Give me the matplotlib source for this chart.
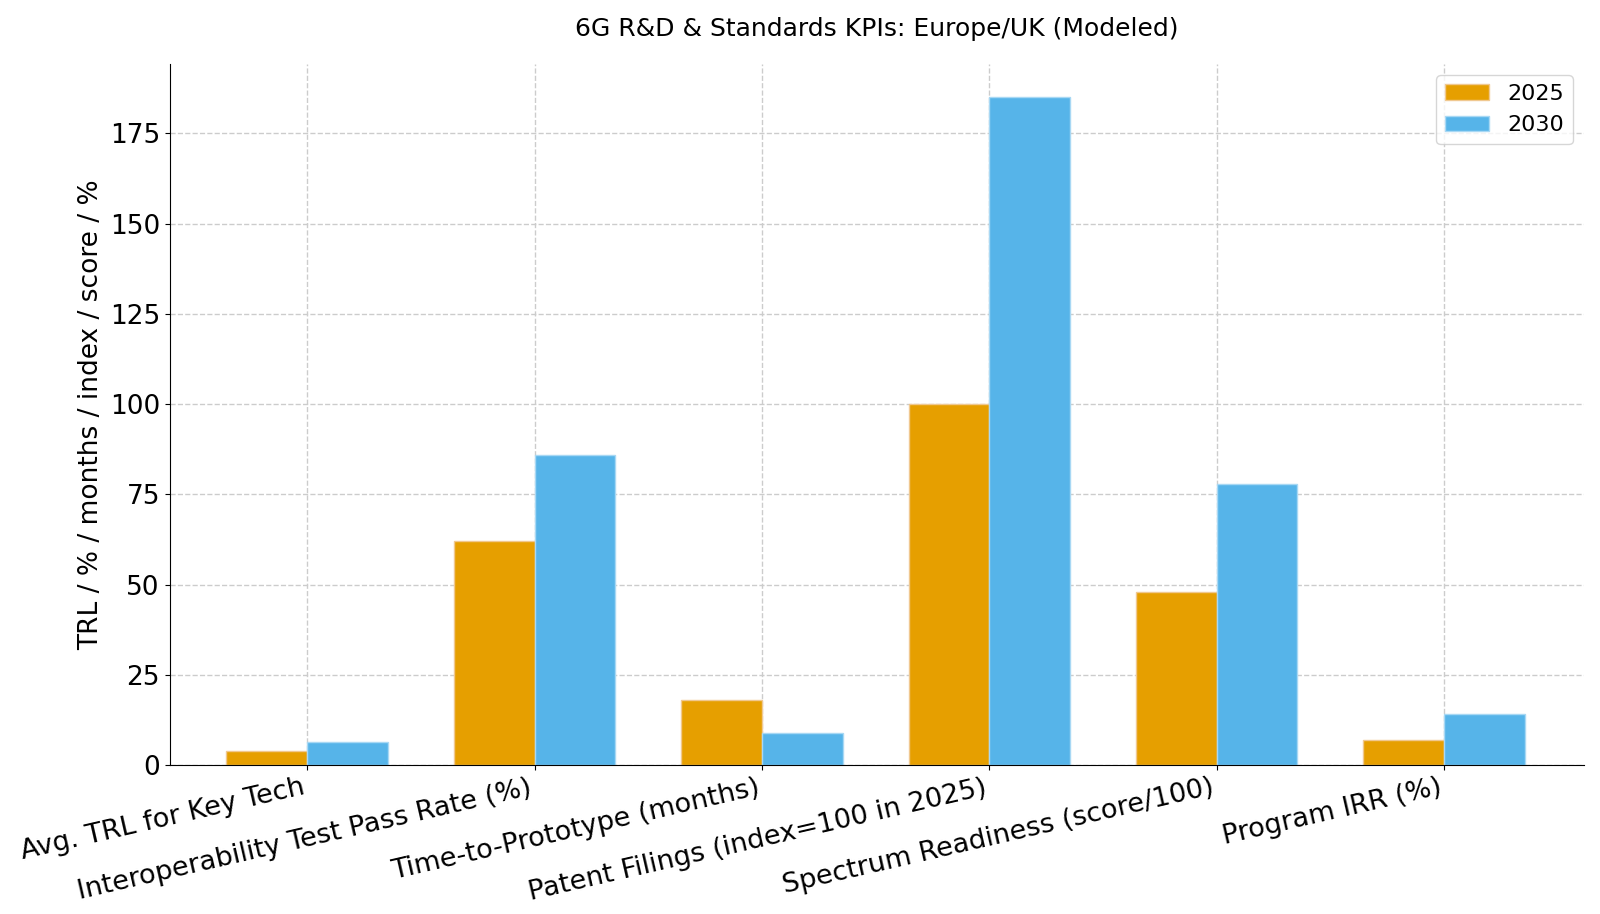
import numpy as np
import matplotlib.pyplot as plt

kpis = ['Avg. TRL for Key Tech', 'Interoperability Test Pass Rate (%)', 'Time-to-Prototype (months)',
        'Patent Filings (index=100 in 2025)', 'Spectrum Readiness (score/100)', 'Program IRR (%)']
vals_2025 = [3.8, 62, 18, 100, 48, 7]
vals_2030 = [6.3, 86, 9, 185, 78, 14]

x = np.arange(len(kpis))
w = 0.355

fig, ax = plt.subplots(figsize=(16, 9.14), dpi=100)
ax.bar(x - w/2, vals_2025, width=w, label='2025', color='#E69F00', edgecolor='#F0C890', linewidth=1)
ax.bar(x + w/2, vals_2030, width=w, label='2030', color='#56B4E9', edgecolor='#A8D8F4', linewidth=1)

ax.set_xticks(x)
ax.set_xticklabels(kpis, rotation=13, ha='right', fontsize=19.5)
ax.set_xlim(-0.605, 5.615)
ax.tick_params(axis='y', labelsize=19)
ax.set_ylabel('TRL / % / months / index / score / %', fontsize=19)
ax.set_title('6G R&D & Standards KPIs: Europe/UK (Modeled)', fontsize=18, pad=20)
ax.grid(True, linestyle='--', color='#cccccc', linewidth=1)
ax.set_axisbelow(True)
ax.spines['top'].set_visible(False)
ax.spines['right'].set_visible(False)
ax.legend(loc='upper right', fontsize=16)

plt.subplots_adjust(left=0.106, right=0.99, top=0.93, bottom=0.163)
plt.savefig('out.png')
